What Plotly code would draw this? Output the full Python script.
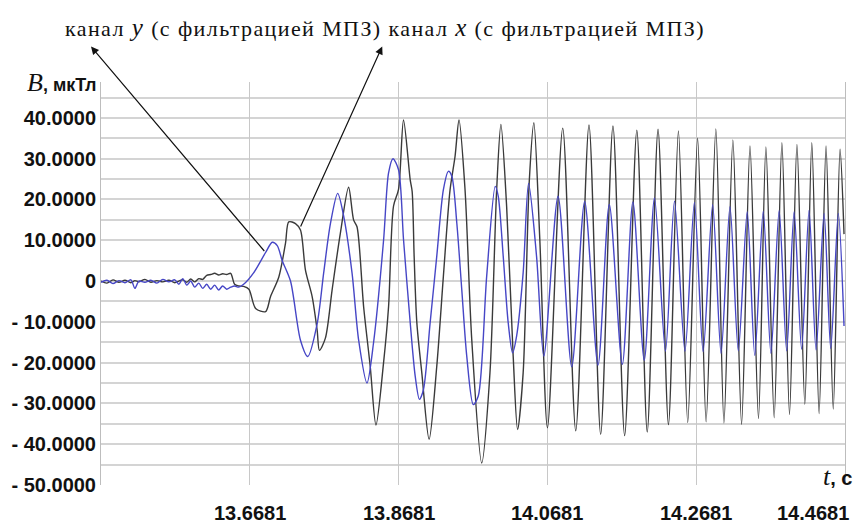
import plotly.graph_objects as go

# ---- data ----
t_pre = [13.4681, 13.4761, 13.4842, 13.4922, 13.5003, 13.5083, 13.5137, 13.5190, 13.5271, 13.5351,
         13.5432, 13.5512, 13.5593, 13.5673, 13.5727, 13.5780, 13.5834, 13.5887, 13.5941, 13.5995,
         13.6048, 13.6102, 13.6156, 13.6209, 13.6263, 13.6316, 13.6370, 13.6424, 13.6477, 13.6531, 13.6598]
y_pre = [-0.3, 0.2, -0.6, 0.1, -0.4, 0.3, -1.8, 0.0, -0.3, 0.2,
         -0.5, 0.4, -0.2, 0.3, -0.8, 0.6, -1.0, 0.0, -1.5, -0.5,
         -1.8, -0.8, -2.0, -1.0, -2.2, -1.2, -2.0, -1.5, -1.2, -1.5, -0.8]
x_pre = [0.0, -0.5, 0.3, -0.3, 0.2, -0.4, 0.1, -0.2, 0.4, -0.3,
         0.1, -0.2, 0.2, -0.4, 0.0, 0.3, -0.3, 0.5, -0.2, 0.6,
         0.4, 1.4, 1.6, 1.9, 1.5, 1.8, 1.6, 1.9, -0.8, -1.2, -1.3]

# channel y (blue)
t_y = [13.6732, 13.6893, 13.6983, 13.7050, 13.7117, 13.7228, 13.7362, 13.7460, 13.7586, 13.7674,
       13.7764, 13.7862, 13.7942, 13.8055, 13.8144, 13.8256, 13.8345, 13.8479, 13.8546, 13.8605, 13.8680,
       13.8747, 13.8837, 13.8904, 13.8961, 13.9015, 13.9105, 13.9194, 13.9283, 13.9350, 13.9396,
       13.9463, 13.9530, 13.9597, 13.9685, 13.9752, 13.9865, 13.9980, 14.0020, 14.0087, 14.0154,
       14.0213, 14.0267, 14.0355, 14.0428, 14.0535, 14.0633,
       14.0824, 14.1008, 14.1182, 14.1361, 14.1513, 14.1688, 14.1830, 14.1983, 14.2121, 14.2268,
       14.2389, 14.2530, 14.2657, 14.2774, 14.2902, 14.3015, 14.3135, 14.3247, 14.3367, 14.3468,
       14.3582, 14.3685, 14.3796, 14.3897, 14.3997, 14.4098, 14.4198, 14.4292, 14.4400, 14.4489,
       14.4591, 14.4668]
B_y = [2, 7, 9.5, 8.7, 5, 0, -14.5, -18.5, -10.5, 2,
       14, 21.5, 16, 2, -14.5, -25, -15, 10, 26.5, 30, 27.3,
       10.2, -10.2, -23.3, -29, -26.6, -10.2, 6.1, 22.4, 26.9, 25.7,
       14.3, -2.1, -18.4, -30.3, -28.2, 1.2, 23.2, 20.8, 6.1, -10.2,
       -17.6, -13.5, 2, 23.9, 6.1, -18.4,
       20.8, -21, 19.5, -20.6, 18.8, -20.4, 19.4, -19.4, 20.4, -17.2,
       19.6, -17.2, 19.3, -17.3, 18.7, -17.7, 18.2, -17.1, 17, -18.2,
       17.1, -17.7, 17.3, -17.1, 17, -16.7, 17.4, -16.9, 16.6, -16.5,
       16.6, -11]

# channel x (black)
t_x = [13.6669, 13.6759, 13.6893, 13.6960, 13.7071, 13.7161, 13.7205, 13.7295, 13.7362, 13.7429,
       13.7519, 13.7586, 13.7617, 13.7697, 13.7787, 13.7898, 13.8009, 13.8076, 13.8122, 13.8211,
       13.8300, 13.8377, 13.8479, 13.8546, 13.8613, 13.8680, 13.8747, 13.8837, 13.8863, 13.8890,
       13.8926, 13.8993, 13.9091, 13.9194, 13.9283, 13.9373, 13.9440, 13.9493, 13.9574, 13.9664,
       13.9798, 13.9909, 13.9999, 14.0056, 14.0133, 14.0221, 14.0280, 14.0355, 14.0436, 14.0499,
       14.0579, 14.0682, 14.0887, 14.1062, 14.1240, 14.1397, 14.1562, 14.1719, 14.1883, 14.2023,
       14.2168, 14.2308, 14.2442, 14.2567, 14.2700, 14.2814, 14.2945, 14.3054, 14.3174, 14.3291,
       14.3404, 14.3518, 14.3618, 14.3729, 14.3833, 14.3935, 14.4035, 14.4141, 14.4235, 14.4333,
       14.4426, 14.4523, 14.4614, 14.4668]
B_x = [-2, -6.7, -7.5, -3.8, 1, 9.3, 14.5, 14.1, 12.5, 2.7,
       -3.8, -12, -17, -14, -2.2, 11.7, 23, 15, 13.3, -6.3,
       -21, -35.3, -20, -6.3, 18.4, 22.5, 39.5, 24.8, 22, 6,
       -10.2, -22.5, -38.8, -20.9, 1.2, 22.4, 30.6, 39.5, 22.4, -14.3,
       -44.6, -22.5, 22.4, 38.4, 18.3, -18.4, -36.4, -22.5, 24, 38.8,
       10.2, -36, 37.5, -36.7, 38.3, -37.6, 38, -37.9, 37, -37,
       37.2, -35.2, 36.8, -34.7, 35, -34.5, 37.3, -34.8, 34.6, -35.1,
       33.1, -33.7, 32.9, -33.5, 33.9, -32.7, 33.5, -30.2, 33.9, -32.5,
       33.1, -31.4, 32.3, 11.5]

x_ticks = [13.6681, 13.8681, 14.0681, 14.2681, 14.4681]
x_ticktext = ["13.6681", "13.8681", "14.0681", "14.2681", "14.4681"]
y_ticks = [40, 30, 20, 10, 0, -10, -20, -30, -40, -50]
y_grid = [45, 40, 35, 30, 25, 20, 15, 10, 5, 0, -5, -10, -15, -20, -25, -30, -35, -40, -45]

assert len(t_pre) == len(y_pre) == len(x_pre)
assert len(t_y) == len(B_y)
assert len(t_x) == len(B_x)

SERIF = "Liberation Serif"


def fmt(v):
    if v == 0:
        return "0"
    if v < 0:
        return "- %.4f" % abs(v)
    return "%.4f" % v


y_ticktext = [fmt(v) for v in y_ticks]

fig = go.Figure()
fig.add_trace(go.Scatter(x=t_pre + t_x, y=x_pre + B_x, mode="lines",
                         line=dict(color="#3a3a3a", width=1.4, shape="spline", smoothing=0.8),
                         hoverinfo="skip", showlegend=False))
fig.add_trace(go.Scatter(x=t_pre + t_y, y=y_pre + B_y, mode="lines",
                         line=dict(color="#4646c6", width=1.4, shape="spline", smoothing=0.8),
                         hoverinfo="skip", showlegend=False))

tickfont = dict(family="Liberation Sans", size=20, color="#111111", weight="bold")

fig.update_layout(
    width=857, height=524,
    margin=dict(l=100, r=11, t=82, b=39),
    paper_bgcolor="white", plot_bgcolor="white",
    xaxis=dict(range=[13.4681, 14.4681], tickvals=x_ticks, showticklabels=False,
               showgrid=True, gridcolor="#c8c8c8", gridwidth=1, zeroline=False,
               showline=False, ticks=""),
    yaxis=dict(range=[-50, 48.8], tickvals=y_ticks, ticktext=y_ticktext, tickfont=tickfont,
               showgrid=False, zeroline=False, showline=True, mirror=True,
               linecolor="#bdbdbd", linewidth=1, ticks="",
               minor=dict(tickvals=y_grid, showgrid=True, gridcolor="#d4d4d4", gridwidth=1.5)),
)

annotations = []
for i, (v, txt) in enumerate(zip(x_ticks, x_ticktext)):
    last = i == len(x_ticks) - 1
    annotations.append(dict(x=v, xref="x", y=0, yref="paper", yshift=-28, text=txt,
                            showarrow=False, font=tickfont, yanchor="middle",
                            xanchor="right" if last else "center", xshift=6 if last else 0))

# axis titles
annotations.append(dict(
    x=0, xref="paper", y=1.0, yref="paper", xanchor="right", yanchor="middle", xshift=-2,
    showarrow=False,
    text="<i>B</i><span style='font-family:Liberation Sans;font-size:18px;font-weight:bold'>, мкТл</span>",
    font=dict(family=SERIF, size=26, color="#111111")))
annotations.append(dict(
    x=1, xref="paper", y=0.022, yref="paper", xanchor="right", yanchor="middle", xshift=9,
    showarrow=False,
    text="<i>t</i><span style='font-family:Liberation Sans;font-size:20px;font-weight:bold'>, c</span>",
    font=dict(family=SERIF, size=26, color="#111111")))

# caption with arrows
annotations.append(dict(
    x=0.382, xref="paper", y=1.134, yref="paper", xanchor="center", yanchor="middle",
    showarrow=False,
    text="<span style='letter-spacing:1.4px'>канал <i><span style='font-size:25px'>y</span></i>"
         " (с фильтрацией МПЗ) канал <i><span style='font-size:25px'>x</span></i>"
         " (с фильтрацией МПЗ)</span>",
    font=dict(family=SERIF, size=22, color="#111111")))
annotations.append(dict(x=13.4547, y=57.5, xref="x", yref="y", ax=13.6893, ay=7.0,
                        axref="x", ayref="y", text="", showarrow=True, arrowhead=2,
                        arrowsize=1.3, arrowwidth=1.2, arrowcolor="#111111"))
annotations.append(dict(x=13.8461, y=57.5, xref="x", yref="y", ax=13.7355, ay=13.0,
                        axref="x", ayref="y", text="", showarrow=True, arrowhead=2,
                        arrowsize=1.3, arrowwidth=1.2, arrowcolor="#111111"))

fig.update_layout(annotations=annotations)
fig.write_html("out.html")
